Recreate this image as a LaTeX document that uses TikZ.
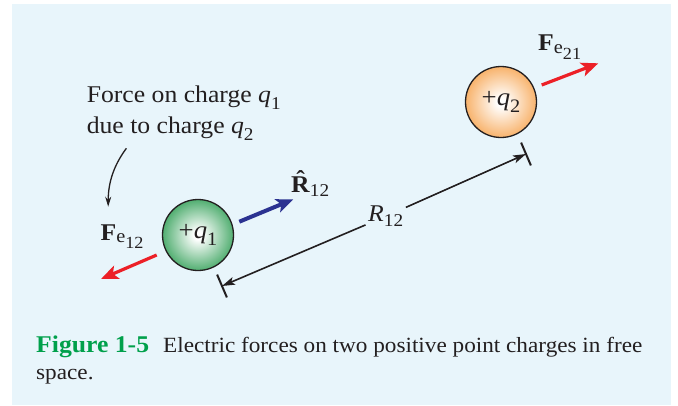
\documentclass[tikz,border=0pt]{standalone}
\usepackage{fontspec}
\setmainfont{Liberation Serif}[FakeStretch=1.07]
\usetikzlibrary{arrows.meta}
\definecolor{bgblue}{RGB}{232,245,251}
\definecolor{qgreen}{RGB}{34,152,74}
\definecolor{qorange}{RGB}{246,158,68}
\definecolor{fred}{RGB}{236,32,39}
\definecolor{rblue}{RGB}{43,50,145}
\definecolor{capgreen}{RGB}{0,160,75}
\definecolor{ink}{RGB}{35,31,32}
\pgfdeclareradialshading{qgshade}{\pgfpoint{0bp}{0bp}}{color(0bp)=(white); color(3bp)=(white); color(31bp)=(qgreen); color(50bp)=(qgreen!92!black)}
\pgfdeclareradialshading{qoshade}{\pgfpoint{0bp}{0bp}}{color(0bp)=(white); color(3bp)=(white); color(31bp)=(qorange); color(50bp)=(qorange!95!black)}
\newcommand\sbx[3]{\raisebox{-#1}{\fontsize{#2}{#2}\selectfont #3}}
\newcommand\hatR{\ooalign{\textbf{R}\cr\hidewidth\raisebox{0.22em}{\textbf{\symbol{"02C6}}}\hidewidth\cr}}
\tikzset{
  txt/.style={inner sep=0pt, text=ink, font=\fontsize{24}{29}\selectfont},
  charge/.style={circle, draw=ink, line width=1.3pt, minimum size=71pt, inner sep=0pt, text=ink, font=\fontsize{25}{29}\selectfont, shade},
  force/.style={line width=3.2pt, draw=fred, -{Stealth[length=17pt,width=14pt,inset=4pt]}},
  unitv/.style={line width=4pt, draw=rblue, -{Stealth[length=17pt,width=14pt,inset=4pt]}},
  dist/.style={line width=1.6pt, draw=ink, -{Stealth[length=13pt,width=8pt,inset=3pt]}},
  endbar/.style={line width=2pt, draw=ink},
  pointer/.style={line width=1.3pt, draw=ink, -{Stealth[length=10pt,width=6pt]}},
}
\begin{document}
\begin{tikzpicture}[x=1pt,y=-1pt]
\useasboundingbox (0,0) rectangle (678,405);
\fill[white] (0,0) rectangle (678,405);
\fill[bgblue] (12,4) rectangle (671,405);

% charges
\node[charge, shading=qgshade] (q1) at (198,235) {+\textit{q}\sbx{7pt}{19}{1}};
\node[charge, shading=qoshade] (q2) at (501,102) {+\textit{q}\sbx{7pt}{19}{2}};

% annotation
\node[txt, anchor=base west] (note1) at (86.6,102.7) {Force on charge \textit{q}\sbx{7pt}{18}{1}};
\node[txt, anchor=base west] (note2) at (86.6,133.3) {due to charge \textit{q}\sbx{7pt}{18}{2}};
\coordinate (ps) at (126.4,148.3);
\coordinate (pe) at (108.2,206.7);
\draw[pointer] (ps) .. controls (114,165) and (108.2,182) .. (pe);

% force labels
\node[txt, anchor=base west] (fe12) at (100.4,240) {\textbf{F}\sbx{2.5pt}{19}{e\sbx{6pt}{17}{12}}};
\node[txt, anchor=base west] (fe21) at (538,50.7) {\textbf{F}\sbx{2.5pt}{19}{e\sbx{6pt}{17}{21}}};
\node[txt, anchor=base west] (rhat) at (291,192.7) {\hatR\sbx{4pt}{18}{12}};

% force arrows
\coordinate (f1s) at (156.7,255);
\coordinate (f1e) at (101,279);
\draw[force] (f1s) -- (f1e);
\coordinate (f2s) at (541.7,85);
\coordinate (f2e) at (598.3,63.3);
\draw[force] (f2s) -- (f2e);
\coordinate (us) at (239.3,221.7);
\coordinate (ue) at (293.3,199.3);
\draw[unitv] (us) -- (ue);

% distance
\node[txt, anchor=base, inner sep=2.5pt] (r12) at (385.7,221.7) {\textit{R}\sbx{5pt}{18}{12}};
\coordinate (t1) at (222,286);
\coordinate (t2) at (526,154);
\draw[dist] (r12) -- (t1);
\draw[dist] (r12) -- (t2);
\coordinate (b1a) at (217.1,274.6);
\coordinate (b1b) at (226.9,297.4);
\coordinate (b2a) at (521.1,142.6);
\coordinate (b2b) at (530.9,165.4);
\draw[endbar] (b1a) -- (b1b);
\draw[endbar] (b2a) -- (b2b);

% caption
\node[txt, anchor=base west] (cap1) at (36,352.7) {{\color{capgreen}\bfseries\fontsize{24}{24}\selectfont Figure 1-5}\hspace{14pt}{\fontsize{21.7}{26}\selectfont Electric forces on two positive point charges in free}};
\node[txt, anchor=base west] (cap2) at (36,379.5) {\fontsize{21.7}{26}\selectfont space.};
\end{tikzpicture}
\end{document}
